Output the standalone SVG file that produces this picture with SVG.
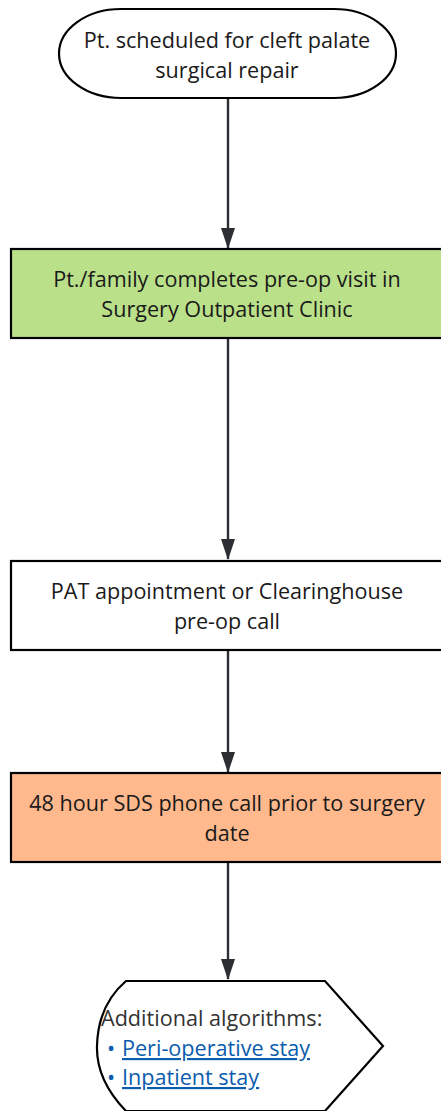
<svg xmlns="http://www.w3.org/2000/svg" width="441" height="1111" viewBox="0 0 441 1111">
<style>
.t{font-family:"Open Sans",sans-serif;font-size:21.6px;fill:#1a1a1a;text-anchor:middle}
.box{stroke:#000;stroke-width:2.2}
.c{stroke:#2b2e33;stroke-width:2.4;fill:none;marker-end:url(#ah)}
.a{font-family:"Open Sans",sans-serif;font-size:21.6px}
.lk{fill:#0b5cad;text-decoration:underline}
</style>
<defs>
<marker id="ah" markerWidth="22" markerHeight="16" refX="20" refY="7" orient="auto" markerUnits="userSpaceOnUse">
<path d="M0,0 L21,7 L0,14 Z" fill="#2b2e33"/>
</marker>
</defs>
<rect width="441" height="1111" fill="#fff"/>
<g id="connectors">
<line class="c" x1="228" y1="99" x2="228" y2="248"/>
<line class="c" x1="228" y1="339" x2="228" y2="559"/>
<line class="c" x1="228" y1="651" x2="228" y2="772"/>
<line class="c" x1="228" y1="863" x2="228" y2="979"/>
</g>
<g id="start">
<rect class="box" x="59" y="9" width="337" height="89" rx="62" ry="44.5" fill="#fff"/>
<text class="t" x="227" y="48">Pt. scheduled for cleft palate</text>
<text class="t" x="227" y="78">surgical repair</text>
</g>
<g id="preop">
<rect class="box" x="11" y="249" width="440" height="89" fill="#bbe08a"/>
<text class="t" x="227" y="287">Pt./family completes pre-op visit in</text>
<text class="t" x="227" y="317">Surgery Outpatient Clinic</text>
</g>
<g id="pat">
<rect class="box" x="11" y="561" width="440" height="89" fill="#fff"/>
<text class="t" x="227" y="599">PAT appointment or Clearinghouse</text>
<text class="t" x="227" y="629">pre-op call</text>
</g>
<g id="sds">
<rect class="box" x="11" y="773" width="440" height="89" fill="#ffb98d"/>
<text class="t" x="227" y="811">48 hour SDS phone call prior to surgery</text>
<text class="t" x="227" y="841">date</text>
</g>
<g id="additional">
<path class="box" d="M126,981 L325,981 L383,1046 L325,1111 L126,1111 Q96,1080 97,1046 Q98,1005 126,981 Z" fill="#fff"/>
<text class="a" x="101" y="1026" fill="#333">Additional algorithms:</text>
<text class="a" x="107" y="1056" fill="#0b5cad">•</text>
<text class="a lk" x="122" y="1056">Peri-operative stay</text>
<text class="a" x="107" y="1085" fill="#0b5cad">•</text>
<text class="a lk" x="122" y="1085">Inpatient stay</text>
</g>
</svg>
